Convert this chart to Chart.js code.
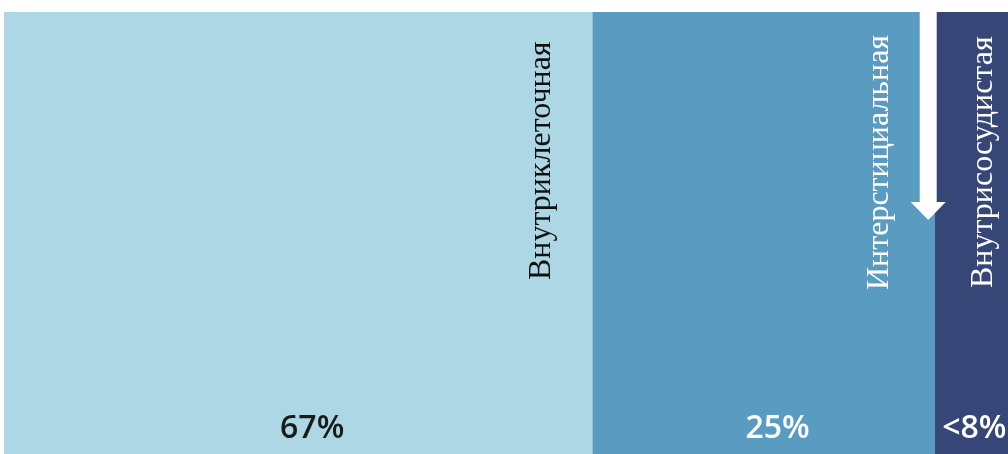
<!DOCTYPE html>
<html lang="ru">
<head>
  <meta charset="UTF-8" />
  <title>Распределение воды</title>
  <script src="https://cdn.jsdelivr.net/npm/chart.js"></script>
  <style>
    body { margin: 0; background: #fff; }
    #wrap { position: relative; width: 1008px; height: 454px; }
  </style>
</head>
<body>
<div id="wrap"><canvas id="waterChart"></canvas></div>

<script>
// data
const compartments = ['Внутриклеточная', 'Интерстициальная', 'Внутрисосудистая'];
const shares = [58.6, 34.1, 7.3];            // segment widths as drawn
const shareLabels = ['67%', '25%', '<8%'];
const colors = ['#aed7e6', '#5a9bc1', '#354677'];
const nameColors = ['#111', '#fff', '#fff'];
const pctColors = ['#1a1a1a', '#fff', '#fff'];

// where the text sits inside each segment
const nameInset = [42, 47, 16];   // px left of the segment's right edge
const nameStart = [268, 278, 276]; // px below the top of the chart
const pctShift = [14, 14, 3];

const labelsPlugin = {
  id: 'labels',
  afterDatasetsDraw(chart) {
    const ctx = chart.ctx;
    const area = chart.chartArea;
    ctx.save();
    chart.data.datasets.forEach((ds, i) => {
      const bar = chart.getDatasetMeta(i).data[0];
      const left = Math.min(bar.x, bar.base);
      const right = Math.max(bar.x, bar.base);

      // vertical name
      ctx.save();
      ctx.translate(right - nameInset[i], area.top + nameStart[i]);
      ctx.rotate(-Math.PI / 2);
      ctx.font = '32px "Liberation Serif", serif';
      ctx.fillStyle = nameColors[i];
      ctx.textAlign = 'left';
      ctx.textBaseline = 'alphabetic';
      ctx.fillText(compartments[i], 0, 0);
      ctx.restore();

      // percentage
      ctx.font = '600 32px "Open Sans", sans-serif';
      ctx.fillStyle = pctColors[i];
      ctx.textAlign = 'center';
      ctx.textBaseline = 'alphabetic';
      ctx.fillText(shareLabels[i], (left + right) / 2 + pctShift[i], area.bottom - 16);
    });

    // white arrow on the border of the 2nd and 3rd segments
    const b = chart.getDatasetMeta(1).data[0];
    const cx = Math.max(b.x, b.base) - 6.5;
    ctx.fillStyle = '#fff';
    ctx.fillRect(cx - 8.5, area.top, 17, 190);
    ctx.beginPath();
    ctx.moveTo(cx - 17.5, area.top + 190);
    ctx.lineTo(cx + 17.5, area.top + 190);
    ctx.lineTo(cx, area.top + 208);
    ctx.closePath();
    ctx.fill();
    ctx.restore();
  }
};

new Chart(document.getElementById('waterChart'), {
  type: 'bar',
  data: {
    labels: [''],
    datasets: compartments.map((name, i) => ({
      label: name,
      data: [shares[i]],
      backgroundColor: colors[i],
      borderWidth: 0,
      barPercentage: 1,
      categoryPercentage: 1
    }))
  },
  options: {
    indexAxis: 'y',
    responsive: true,
    maintainAspectRatio: false,
    animation: false,
    layout: { padding: { left: 4, top: 12, right: 0, bottom: 0 } },
    plugins: { legend: { display: false }, tooltip: { enabled: false } },
    scales: {
      x: { stacked: true, min: 0, max: 100, display: false },
      y: { stacked: true, display: false }
    }
  },
  plugins: [labelsPlugin]
});
</script>
</body>
</html>
